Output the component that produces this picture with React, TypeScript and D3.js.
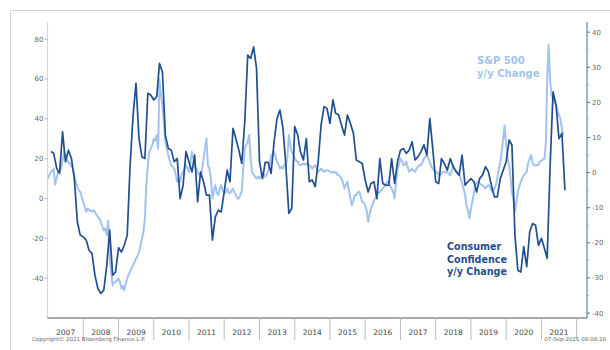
import React from "react";
import * as d3 from "d3";

// Consumer Confidence y/y % change (right axis), monthly from Feb 2007
const ccStartMonth = 1; // months after Jan 2007
const ccValues = [
  6.0, 5.5, 1.2, -0.2, 11.6, 3.1, 6.4, 4.0, -1.7, -14.0, -17.8,
  -18.3, -19.2, -22.1, -23.0, -29.2, -33.0, -34.4, -33.5, -26.4, -16.4, -29.2, -28.3,
  -21.4, -22.6, -20.7, -17.8, 2.1, 16.4, 25.4, 9.7, 4.5, 4.0, 22.6, 22.1,
  20.7, 21.6, 31.1, 28.7, 10.7, 6.9, 6.4, 3.1, 4.0, -7.4, -3.6, 6.0,
  3.1, 0.2, 5.0, -8.3, 0.2, -2.6, -6.4, -6.4, -19.2, -12.6, -10.7, -11.2,
  -5.5, 0.7, -2.6, 12.6, 9.7, 6.4, 2.6, 14.5, 33.5, 32.5, 35.8, 29.7,
  3.1, -1.7, 2.9, 2.9, -0.2, 8.8, 15.4, 17.8, 12.6, 2.1, -11.6, -10.2,
  13.1, 10.7, 5.9, 3.6, 9.7, -2.6, -2.1, -4.0, 3.1, 13.5, 18.8, 18.3,
  14.0, 20.7, 16.9, 16.4, 13.5, 10.7, 16.4, 14.0, 11.2, 3.6, 3.1, 2.6,
  -2.1, -5.5, -3.1, -2.6, -7.4, 4.0, -3.1, -3.6, -3.6, 4.0, -3.1, 3.1,
  6.4, 6.9, 5.5, 6.4, 8.8, 3.6, 4.5, 6.0, 7.9, 5.0, 15.4, 6.9,
  -2.6, -3.1, 4.0, 2.6, 0.7, 4.0, 1.7, 0.2, -0.7, 5.0, -3.6, -2.6,
  -1.7, -2.6, -5.5, -1.7, -0.7, 1.7, 0.2, -3.6, -6.9, -6.9, -1.7, 0.7,
  3.1, 9.3, 7.8, -17.8, -27.8, -28.3, -21.1, -26.8, -16.9, -14.5, -15.0, -20.7,
  -18.7, -21.6, -24.4, 2.1, 23.0, 19.2, 9.7, 11.2, -5.0,
];

// S&P 500 y/y % change (left axis), twice a month from Jan 2007
const spValues = [
  10, 12, 13.4, 14, 15, 7, 10, 13.4, 14, 15, 19, 23.4, 21, 19.4, 18, 17.7, 16, 15, 11, 8.4, 6, 4, 3.4, 1,
  -1.7, -4, -6.7, -5, -5.8, -6, -6.7, -6, -6.7, -8, -9.2, -10, -11.7, -14, -16, -15, -18.4, -11, -30.2, -36, -43.6, -42, -41.9, -41,
  -40.2, -42, -45.2, -44, -46.1, -43, -40.2, -38, -36.9, -35, -33.5, -32, -30.2, -29, -26.8, -24, -20.1, -17, -10, 7, 16.7, 23.4, 25, 26.8,
  30, 29, 31.8, 25, 60, 52, 46.9, 38, 28.5, 25, 21.8, 19, 16.7, 16, 15, 12, 8.4, 10, 8.4, 12, 13.4, 15, 16.7, 15,
  13.4, 18, 23.4, 20, 16.7, 15, 13.4, 12, 11.7, 14, 20, 25, 30.2, 16.7, 15, 10, 0, 4, 6.7, 3, 1.7, 5, 6.7, 4,
  3.4, 3, 5, 3, 2.5, 4, 5, 3, 2, 0, 0, 2, 3.4, 15, 25.1, 27, 28.5, 31.8, 20, 13.4, 12, 10.9, 10, 11,
  10, 11, 12.6, 12, 10.9, 12, 13.4, 17, 21.8, 22, 23.4, 21, 18.4, 17, 15, 16, 15, 17, 16.7, 20, 31.8, 27, 23.4, 22,
  20.1, 19, 18.4, 17, 16.7, 17, 17.6, 17, 17.6, 16.7, 16.7, 16, 15, 16, 16.7, 15, 13.4, 14, 15, 14, 13.4, 14, 14.2, 14,
  13.4, 13, 13.4, 13, 13.4, 12, 11.7, 11, 10, 8, 5, 7, 8.4, 4, 0, -3.4, -1, 1.7, 1.7, 3, 3.4, 1, -1.7, -2,
  -3.4, -6, -11.7, -8, -5, -3.4, -1, 0, 1.7, 2.5, 3.4, 4, 5, 6, 7, 8.4, 8.4, 6, 5, 3.4, 0, 8.4, 15, 17,
  20.1, 19, 16.7, 17, 18.4, 16, 13.4, 14, 15, 14, 13.4, 15, 16, 16.7, 16.7, 18, 20.1, 21, 21.8, 20, 18.4, 16, 15, 14,
  13.4, 13, 12, 11.7, 12.5, 13.4, 13.4, 13, 13.4, 12.5, 11.7, 14, 16.7, 15, 14, 13.4, 12, 10, 8, 5, 2, -3.4, -6, -10,
  -5, -1.7, 3, 6.7, 8, 8.4, 7.5, 7, 6.7, 6, 5, 6, 6.7, 6, 4, 3.4, 5, 6.7, 10, 15, 18, 23.4, 30, 36.7,
  26.8, 20, 16.7, 10, 3, 0, -6.7, -2, 3.4, 6, 8.4, 10, 11.7, 12.5, 13.4, 18, 20, 21.8, 18, 16.7, 16.7, 16.7, 17, 18.4,
  19, 19.5, 20.1, 28.5, 60, 77, 58.6, 52, 50.2, 48, 46.9, 44, 42, 40, 35.2, 31.8,
];

const years = d3.range(2007, 2022);
const leftTicks = [-40, -20, 0, 20, 40, 60, 80];
const rightTicks = [-40, -30, -20, -10, 0, 10, 20, 30, 40];
const rightMinor = [-35, -25, -15, -5, 5, 15, 25, 35];

const W = 610;
const H = 350;
const plotTop = 22;
const plotBottom = 318;
const plotLeft = 47.5;
const plotRight = 587;

const DARK = "#1f4f8e";
const LIGHT = "#a2c3ed";

export default function App() {
  const x = d3
    .scaleTime()
    .domain([new Date(2007, 0, 1), new Date(2022, 0, 1)])
    .range([48, 576.7]);
  const yL = d3.scaleLinear().domain([-60, 88.6]).range([plotBottom, plotTop]);
  const yR = d3.scaleLinear().domain([-41.4, 42.9]).range([plotBottom, plotTop]);

  const ccData = ccValues.map((v, i) => ({ d: new Date(2007, ccStartMonth + i, 1), v }));
  const spData = spValues.map((v, i) => ({
    d: new Date(2007, Math.floor(i / 2), i % 2 === 0 ? 1 : 16),
    v,
  }));

  const ccLine = d3
    .line<{ d: Date; v: number }>()
    .x((p) => x(p.d))
    .y((p) => yR(p.v));
  const spLine = d3
    .line<{ d: Date; v: number }>()
    .x((p) => x(p.d))
    .y((p) => yL(p.v));

  const font = "'DejaVu Sans', Verdana, sans-serif";

  return (
    <div style={{ position: "fixed", left: 0, top: 0 }}>
      <svg width={W} height={H} style={{ display: "block", background: "#fff" }}>
        {/* outer frame */}
        <rect x={10.5} y={10.5} width={640} height={360} fill="none" stroke="#d4d4d4" />

        {/* left axis */}
        <line x1={plotLeft} x2={plotLeft} y1={plotTop} y2={plotBottom} stroke="#cdd8e4" strokeWidth={1.2} />
        {leftTicks.map((t) => (
          <g key={"l" + t}>
            <line x1={plotLeft - 3} x2={plotLeft} y1={yL(t)} y2={yL(t)} stroke="#aab4c0" />
            <text x={plotLeft - 4} y={yL(t)} dy="0.35em" textAnchor="end" fontSize={7} fill="#666" fontFamily={font}>
              {t}
            </text>
          </g>
        ))}

        {/* right axis */}
        <line x1={plotRight} x2={plotRight} y1={plotTop} y2={plotBottom} stroke="#5b86bd" strokeWidth={1.2} />
        {rightTicks.map((t) => (
          <g key={"r" + t}>
            <line x1={plotRight} x2={plotRight + 3} y1={yR(t)} y2={yR(t)} stroke="#4a6f9f" />
            <text x={plotRight + 5} y={yR(t)} dy="0.35em" fontSize={7} fill="#666" fontFamily={font}>
              {t}
            </text>
          </g>
        ))}
        {rightMinor.map((t) => (
          <line key={"rm" + t} x1={plotRight} x2={plotRight + 2} y1={yR(t)} y2={yR(t)} stroke="#9fb3cc" />
        ))}

        {/* bottom axis */}
        <line x1={plotLeft} x2={plotRight} y1={plotBottom} y2={plotBottom} stroke="#555" strokeWidth={1.2} />
        {years.map((yr) => (
          <g key={yr}>
            <line
              x1={x(new Date(yr + 1, 0, 1))}
              x2={x(new Date(yr + 1, 0, 1))}
              y1={plotBottom}
              y2={340}
              stroke="#bbb"
            />
            <text
              x={(x(new Date(yr, 0, 1)) + x(new Date(yr + 1, 0, 1))) / 2}
              y={335}
              textAnchor="middle"
              fontSize={7.5}
              fill="#444"
              fontFamily={font}
            >
              {yr}
            </text>
          </g>
        ))}

        {/* series */}
        <path d={spLine(spData) || ""} fill="none" stroke={LIGHT} strokeWidth={2} strokeLinejoin="round" />
        <path d={ccLine(ccData) || ""} fill="none" stroke={DARK} strokeWidth={1.7} strokeLinejoin="round" />

        {/* annotations */}
        <g fontFamily={font} fontWeight="bold" fontSize={10}>
          <text x={477} y={64} fill={LIGHT}>S&amp;P 500</text>
          <text x={477} y={77} fill={LIGHT}>y/y Change</text>
          <text x={447} y={250} fill={DARK} fontSize={9.6}>Consumer</text>
          <text x={447} y={262.5} fill={DARK} fontSize={9.6}>Confidence</text>
          <text x={447} y={275} fill={DARK} fontSize={9.6}>y/y Change</text>
        </g>

        {/* footer */}
        <text x={32} y={341} fontSize={5.5} fill="#666" fontFamily={font}>
          Copyright© 2021 Bloomberg Finance L.P.
        </text>
        <text x={606} y={341} fontSize={5.5} fill="#666" textAnchor="end" fontFamily={font}>
          07-Sep-2021 08:08:20
        </text>
      </svg>
    </div>
  );
}
